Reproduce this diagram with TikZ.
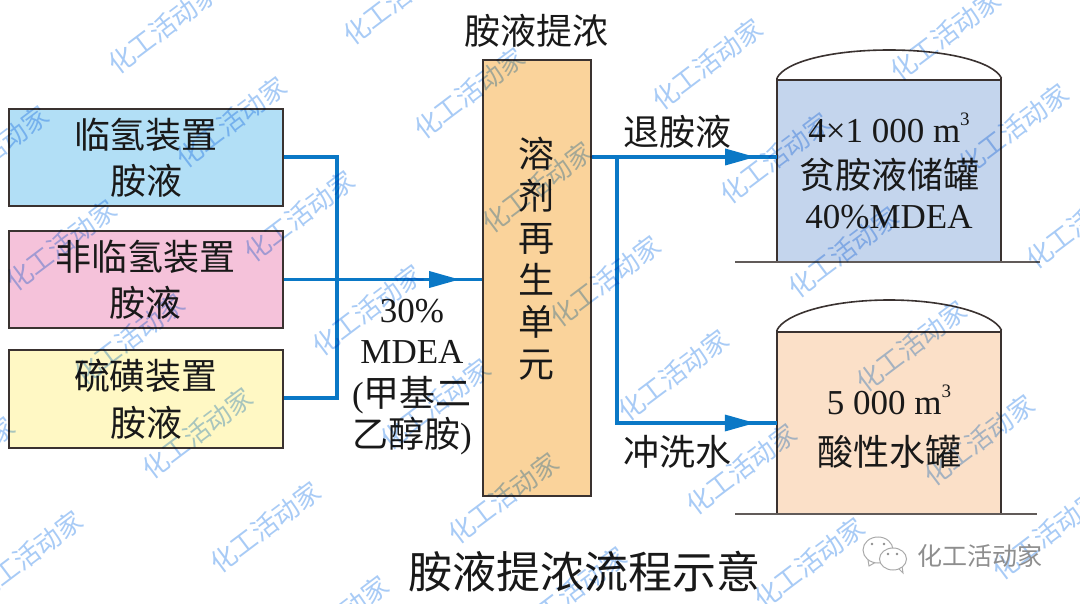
\documentclass[tikz,border=0pt]{standalone}
\usepackage{fontspec}
\setmainfont{Liberation Serif}
\newfontfamily\cjk{Noto Sans CJK SC}
\usetikzlibrary{arrows.meta,decorations.markings}
\definecolor{flowblue}{HTML}{0A78C6}
\definecolor{edge}{HTML}{3A3230}
\definecolor{wm}{HTML}{A8CBF6}
\definecolor{logogray}{HTML}{8E8E8E}
\tikzset{
  unitbox/.style={draw=edge,line width=2pt,minimum width=274pt,anchor=north west,inner sep=0pt,align=center,font=\fontsize{36}{46}\selectfont\cjk,text=black!90},
  tankbody/.style={draw=none,minimum width=224pt,anchor=north west,inner sep=0pt},
  tankline/.style={draw=edge,line width=1.9pt},
  ground/.style={draw=edge!80,line width=1.3pt},
  flow/.style={draw=flowblue,line width=3.8pt},
  thinflow/.style={draw=flowblue,line width=3.2pt},
  lab/.style={font=\fontsize{36}{42}\selectfont\cjk,text=black!90,align=center,inner sep=0pt},
  latin/.style={font=\fontsize{35}{41}\selectfont,text=black!90,align=center,inner sep=0pt},
  wmark/.style={font=\fontsize{26}{26}\selectfont\cjk,text=wm,rotate=37,inner sep=0pt},
  tip/.style={decoration={markings,mark=at position #1 with {\arrow[flowblue,line width=0pt]{Triangle[length=30pt,width=17pt]}}},postaction={decorate}},
  logo/.style={fill=white,draw=logogray!75,line width=1pt}
}
\newcommand{\cj}[1]{{\fontsize{36}{41}\selectfont\cjk #1}}
\newcommand{\cubed}{\raisebox{0.5em}{\fontsize{19}{19}\selectfont 3}}
\begin{document}
\begin{tikzpicture}[x=1pt,y=-1pt]
\useasboundingbox (0,0) rectangle (1080,604);
\fill[white] (0,0) rectangle (1080,604);
% source boxes
\node[unitbox,fill={rgb,255:red,178;green,223;blue,246},minimum height=97pt] (b1) at (8,108) {临氢装置\\胺液};
\node[unitbox,fill={rgb,255:red,245;green,194;blue,218},minimum height=97pt] (b2) at (8,230) {非临氢装置\\胺液};
\node[unitbox,fill={rgb,255:red,255;green,248;blue,196},minimum height=98pt] (b3) at (8,349) {硫磺装置\\[1pt]胺液};
% regeneration unit
\node[draw=edge,line width=2pt,fill={rgb,255:red,250;green,211;blue,155},minimum width=108pt,minimum height=436pt,anchor=north west,inner sep=0pt] (unit) at (482,59) {};
\node[lab] (unittext) at (536,259) {溶\\剂\\再\\生\\单\\元};
\node[lab] (unittitle) at (536,31) {胺液提浓};
% tanks
\node[tankbody,fill={rgb,255:red,196;green,213;blue,237},minimum height=182pt] (t1) at (777,80) {};
\node[tankbody,fill={rgb,255:red,251;green,224;blue,200},minimum height=182pt] (t2) at (777,332) {};
\foreach \t/\ptop in {t1/50,t2/300}{
  \draw[tankline] (\t.south west) -- ([yshift=2pt]\t.north west) ([yshift=0pt]\t.north west) -- (\t.north east) ([yshift=2pt]\t.north east) -- (\t.south east);
  \draw[tankline,line width=1.6pt] ([yshift=2pt]\t.north west) .. controls +(8,-16) and +(-59,0) .. (\t.north |- 0,\ptop) .. controls +(59,0) and +(-8,-16) .. ([yshift=2pt]\t.north east);
}
\coordinate (g1a) at (735,262); \coordinate (g1b) at (1040,262);
\coordinate (g2a) at (735,514); \coordinate (g2b) at (1037,514);
\draw[ground] (g1a) -- (g1b);
\draw[ground] (g2a) -- (g2b);
\node[latin] (t1a) at (889,128) {4×1 000 m\cubed};
\node[lab] (t1b) at (889,175) {贫胺液储罐};
\node[latin] (t1c) at (889,217) {40\%MDEA};
\node[latin] (t2a) at (889,400) {5 000 m\cubed};
\node[lab] (t2b) at (889,452) {酸性水罐};
% connectors
\coordinate (j1) at (337,157);
\coordinate (j2) at (337,398);
\coordinate (j3) at (617,157);
\coordinate (j4) at (617,423);
\draw[flow,line join=miter] (b1.east |- j1) -- (j1) -- (j2) -- (b3.east |- j2);
\draw[flow,tip=0.885] (b2.east) -- (unit.west |- b2.east);
\draw[thinflow,tip=0.882] (unit.east |- j1) -- (t1.west |- j1);
\draw[thinflow,line join=miter,tip=0.948] (j3) -- (j4) -- (t2.west |- j4);
% labels
\node[lab] (out) at (677,132) {退胺液};
\node[lab] (wash) at (677,452) {冲洗水};
\node[latin] (mdea) at (412,377) {30\%\\MDEA\\[2pt](\cj{甲基二}\\\cj{乙醇胺})};
\node[lab,font=\fontsize{44}{44}\selectfont\cjk] (title) at (584,572) {胺液提浓流程示意};
% watermarks
\begin{scope}[blend mode=multiply]
\foreach \x/\y in {163/28,398/-1,
  -7/151,231/122,469/93,707/64,945/35,
  61/245,299/216,537/187,775/158,1013/129,
  129/339,367/310,605/281,843/252,1081/223,
  -41/462,197/433,435/404,673/375,911/346,
  27/556,265/527,503/498,741/469,979/440,
  333/621,571/592,809/563,1047/534}{
  \node[wmark] at (\x,\y) {化工活动家};
}
\end{scope}
% account mark
\coordinate (wc1) at (878,550);
\coordinate (wc2) at (893,559);
\draw[logo] (868,560) -- (869,566) -- (876,562);
\draw[logo] (wc1) ellipse (15pt and 13pt);
\draw[logo] (898,568) -- (903,573) -- (902,566);
\draw[logo] (wc2) ellipse (13.5pt and 11pt);
\foreach \p in {(872,544),(884,544),(888,554),(897,554)}{\fill[logogray] \p circle (1.3pt);}
\node[font=\fontsize{25}{25}\selectfont\cjk,text=logogray,inner sep=0pt] (account) at (980,556) {化工活动家};
\end{tikzpicture}
\end{document}
